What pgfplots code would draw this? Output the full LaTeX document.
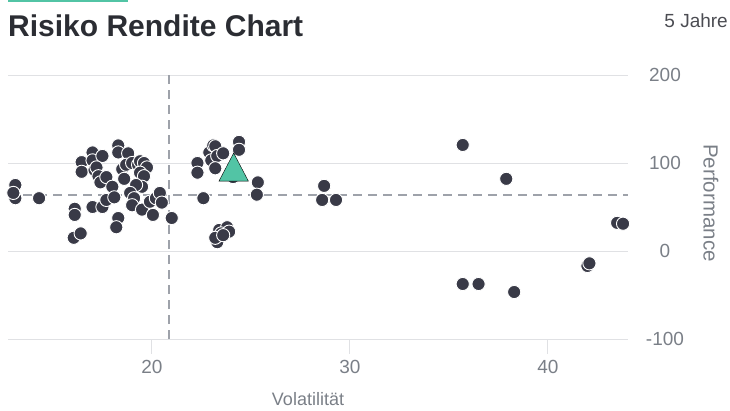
\documentclass[border=0pt]{standalone}
\usepackage{pgfplots}
\pgfplotsset{compat=1.18}
\usepackage{fontspec}
\setmainfont{Liberation Sans}
\definecolor{dotc}{HTML}{393A47}
\definecolor{tealc}{HTML}{52C4A5}
\definecolor{gridc}{HTML}{E0E1E4}
\definecolor{dashc}{HTML}{9EA2AA}
\definecolor{labc}{HTML}{7A7F87}
\definecolor{titlec}{HTML}{2B2D33}

\pgfplotstableread{
x y
13.1 75
13.1 60
13.0 66
14.3 60
16.1 48
16.1 41
16.05 15
16.4 20
17.0 50
17.5 50
16.45 101
16.45 90
17.0 112
17.0 103
17.5 108
17.1 92
17.2 95
17.3 85
17.4 78
17.7 84
17.7 58
18.0 73
18.1 61
18.3 120
18.3 112
18.5 93
18.6 82
18.8 111
18.7 98
19.0 100
19.3 98
19.4 102
19.6 100
19.75 95
19.4 89
19.6 85
19.5 73
19.2 75
18.9 66
19.1 60
19.0 52
19.5 47
19.9 56
20.2 60
20.05 41
20.4 66
20.5 55
21.0 37.5
18.3 37.5
18.2 27
22.3 100
22.3 89
22.9 112
23.0 103
23.1 120
23.2 119
23.3 108
23.6 111
23.2 94
24.4 124
24.4 115
22.6 60
24.1 84
25.35 78
25.3 64
23.4 24
23.3 10
23.8 27
23.5 20
23.2 15
23.9 22
23.6 18
28.7 74
28.6 58
29.3 58
35.7 120.5
37.9 82
43.5 32
43.8 31
42.0 -17
42.1 -14
35.7 -37.5
36.5 -37.5
38.3 -46.6
}\funds

\begin{document}
\begin{tikzpicture}
\path[use as bounding box] (0,0) rectangle (730pt,410pt);
\fill[tealc] (8pt,407.5pt) rectangle (128pt,410pt);
\node[anchor=base west, inner sep=0pt, font=\fontsize{30}{32}\selectfont\bfseries, text=titlec] at (8pt,373pt) {Risiko Rendite Chart};
\node[anchor=base east, inner sep=0pt, font=\fontsize{19}{21}\selectfont, text=titlec!85] at (728pt,382pt) {5 Jahre};
\begin{axis}[
  at={(8pt,71pt)}, anchor=south west,
  scale only axis, width=620pt, height=264pt,
  xmin=12.73, xmax=44.05, ymin=-100, ymax=200,
  axis line style={draw=none},
  xtick={20,30,40}, ytick={-100,0,100,200},
  xtick pos=bottom, tick align=outside, major tick length=15pt,
  x tick style={color=gridc, line width=1pt},
  y tick style={draw=none},
  ymajorgrids, major grid style={color=gridc, line width=1pt},
  yticklabel pos=right,
  yticklabel style={anchor=center, xshift=22pt},
  xticklabel style={yshift=-3pt},
  tick label style={font=\fontsize{19}{21}\selectfont, text=labc},
  /pgf/number format/assume math mode=true,
  clip=false,
]
\addplot[dashc, line width=1.3pt, dash pattern=on 9pt off 6pt] coordinates {(20.86,-100)(20.86,200)};
\addplot[dashc, line width=1.3pt, dash pattern=on 9pt off 6pt] coordinates {(12.73,63.6)(44.05,63.6)};
\addplot[only marks, mark=*, mark size=6.6pt, mark options={fill=dotc, draw=white, line width=0.9pt}] table[x=x,y=y] {\funds};
\addplot[only marks, mark=triangle*, mark size=17pt, mark options={fill=tealc, draw=none, yscale=1.1}] coordinates {(24.13,90)};
\end{axis}
\node[font=\fontsize{20.5}{22}\selectfont, text=labc, rotate=-90] at (711pt,207pt) {Performance};
\node[anchor=base, inner sep=0pt, font=\fontsize{18}{20}\selectfont, text=labc] at (308pt,5pt) {Volatilität};
\end{tikzpicture}
\end{document}
